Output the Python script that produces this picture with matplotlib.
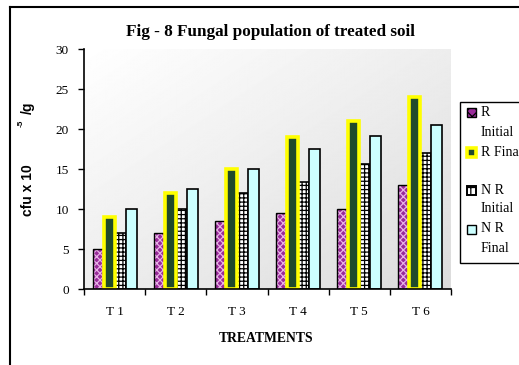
import numpy as np
import matplotlib
matplotlib.use("Agg")
import matplotlib.pyplot as plt
from matplotlib.patches import Rectangle
from matplotlib.lines import Line2D

# ---- data ----
treatments = ["T 1", "T 2", "T 3", "T 4", "T 5", "T 6"]
r_initial = [5, 7, 8.5, 9.5, 10, 13]
r_final = [9, 12, 15, 19, 21, 24]
nr_initial = [7, 10, 12, 13.4, 15.6, 17]
nr_final = [10, 12.5, 15, 17.5, 19.1, 20.5]
series_labels = ["R\nInitial", "R Final", "N R\nInitial", "N R\nFinal"]
y_ticks = [0, 5, 10, 15, 20, 25, 30]

SERIF = "Liberation Serif"
SANS = "Liberation Sans"
plt.rcParams["hatch.linewidth"] = 0.9

W, H = 519, 365
fig = plt.figure(figsize=(W / 100, H / 100), dpi=100)
fig.patch.set_facecolor("white")


def fx(px):
    return px / W


def fy(py):
    return 1 - py / H


ax = fig.add_axes([fx(84), fy(289), fx(451) - fx(84), fy(49) - fy(289)])
ax.set_facecolor("white")

# diagonal grey gradient behind the bars
gx, gy = np.meshgrid(np.linspace(0, 1, 300), np.linspace(0, 1, 300))
grad = 1 - 0.14 * (gx + gy) / 2
ax.imshow(grad, cmap="gray", vmin=0, vmax=1, extent=[0, 1, 0, 1],
          transform=ax.transAxes, aspect="auto", zorder=0,
          interpolation="bilinear")

x = np.arange(len(treatments))
w = 0.18
offs = [-1.5, -0.5, 0.5, 1.5]

# R initial: purple with light dotted pattern
ax.bar(x + offs[0] * w, r_initial, w, color="#992a99", hatch="xxxxx",
       edgecolor="#e6b0e6", linewidth=0, zorder=2)
ax.bar(x + offs[0] * w, r_initial, w, fill=False, edgecolor="black",
       linewidth=1, zorder=3)
# R final: dark green with thick yellow border
ax.bar(x + offs[1] * w, r_final, w, color="#1f4a2c", edgecolor="#ffff00",
       linewidth=2.6, zorder=4)
# NR initial: white with black grid
ax.bar(x + offs[2] * w, nr_initial, w, color="white", hatch="++++",
       edgecolor="black", linewidth=1.2, zorder=2)
# NR final: light cyan
ax.bar(x + offs[3] * w, nr_final, w, color="#ccffff", edgecolor="black",
       linewidth=1.2, zorder=2)

ax.set_xlim(-0.5, len(treatments) - 0.5)
ax.set_ylim(0, 30)
for s in ("top", "right"):
    ax.spines[s].set_visible(False)
for s in ("left", "bottom"):
    ax.spines[s].set_linewidth(1.2)
    ax.spines[s].set_zorder(5)

ax.set_yticks(y_ticks)
ax.set_yticklabels([str(v) for v in y_ticks], fontfamily=SERIF, fontsize=9.5)
ax.tick_params(axis="y", direction="out", length=4, width=1, pad=7)

ax.set_xticks(np.arange(len(treatments) + 1) - 0.5)
ax.set_xticklabels([])
ax.set_xticks(x, minor=True)
ax.set_xticklabels(treatments, minor=True, fontfamily=SERIF, fontsize=9.5)
ax.tick_params(axis="x", which="major", direction="out", length=4, width=1)
ax.tick_params(axis="x", which="minor", length=0, pad=12)

# titles and labels
fig.text(fx(270), fy(32), "Fig - 8 Fungal population of treated soil",
         ha="center", va="center", fontfamily=SERIF, fontweight="bold",
         fontsize=12.3)
fig.text(fx(266), fy(339), "TREATMENTS", ha="center", va="center",
         fontfamily=SERIF, fontweight="bold", fontsize=9.8)
fig.text(fx(28), fy(190), "cfu x 10", rotation=90, ha="center", va="center",
         fontfamily=SANS, fontweight="bold", fontsize=10)
fig.text(fx(21), fy(123), "-5", rotation=90, ha="center", va="center",
         fontfamily=SANS, fontweight="bold", fontsize=6)
fig.text(fx(28), fy(108), "/g", rotation=90, ha="center", va="center",
         fontfamily=SANS, fontweight="bold", fontsize=10)

# outer frame
fig.add_artist(Line2D([fx(10), fx(10)], [fy(7), 0], color="black", lw=1.5,
                      transform=fig.transFigure))
fig.add_artist(Line2D([fx(10), 1], [fy(7), fy(7)], color="black", lw=1.5,
                      transform=fig.transFigure))

# legend
fig.add_artist(Rectangle((fx(460), fy(263)), 1 - fx(460) + 0.02,
                         fy(102) - fy(263), transform=fig.transFigure,
                         facecolor="white", edgecolor="black", lw=1))
sw = 9
swatch_y = [112, 152, 190, 229]
swatch_styles = [
    dict(facecolor="#992a99", hatch="xxx", edgecolor="black", lw=1),
    dict(facecolor="#1f4a2c", edgecolor="#ffff00", lw=2.6),
    dict(facecolor="white", hatch="++", edgecolor="black", lw=1.4),
    dict(facecolor="#ccffff", edgecolor="black", lw=1),
]
for yy, st in zip(swatch_y, swatch_styles):
    fig.add_artist(Rectangle((fx(467), fy(yy + sw / 2)), sw / W, sw / H,
                             transform=fig.transFigure, **st))

label_lines = [(series_labels[0].split("\n")[0], 112),
               (series_labels[0].split("\n")[1], 132),
               (series_labels[1], 152),
               (series_labels[2].split("\n")[0], 190),
               (series_labels[2].split("\n")[1], 209),
               (series_labels[3].split("\n")[0], 229),
               (series_labels[3].split("\n")[1], 248)]
for txt, yy in label_lines:
    fig.text(fx(481), fy(yy), txt, ha="left", va="center", fontfamily=SERIF,
             fontsize=10)

fig.savefig("out.png", dpi=100)
